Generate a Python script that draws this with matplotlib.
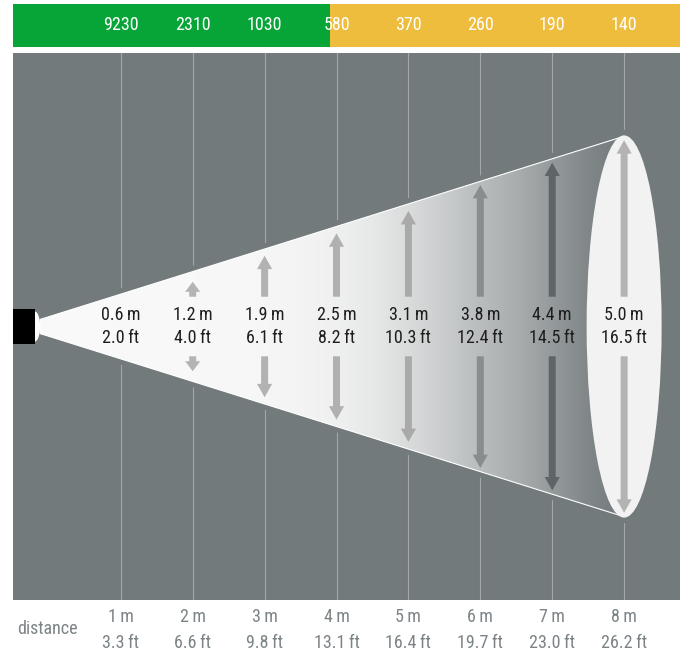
import numpy as np
import matplotlib
matplotlib.use('Agg')
import matplotlib.pyplot as plt
from matplotlib import font_manager, transforms
from matplotlib.patches import Polygon, Ellipse, Rectangle, FancyArrow

# datos
distancia_m = [1, 2, 3, 4, 5, 6, 7, 8]
distancia_ft = ['3.3', '6.6', '9.8', '13.1', '16.4', '19.7', '23.0', '26.2']
lux = [9230, 2310, 1030, 580, 370, 260, 190, 140]
diametro_m = [0.6, 1.2, 1.9, 2.5, 3.1, 3.8, 4.4, 5.0]
diametro_ft = ['2.0', '4.0', '6.1', '8.2', '10.3', '12.4', '14.5', '16.5']

# estilo
fondo = '#737a7c'
verde = '#07a537'
amarillo = '#eebd3e'
gris_rejilla = '#a2a7a9'
gris_texto = '#7c8386'
colores_flecha = ['#b4b4b4', '#b4b4b4', '#b2b2b2', '#b0b0b0', '#a9a9a9',
                  '#898d8e', '#5f6466', '#b3b3b3']

nombres = {f.name for f in font_manager.fontManager.ttflist}
fuente = 'Roboto'
for cand in ['Liberation Sans Narrow', 'Roboto Condensed', 'Roboto']:
    if cand in nombres:
        fuente = cand
        break
plt.rcParams['font.family'] = [fuente, 'DejaVu Sans']

fig = plt.figure(figsize=(6.8, 6.57), dpi=100)
fig.patch.set_facecolor('white')

xlim = (-0.4993, 8.777)
ylim = (-3.671, 3.671)

# panel principal
ax = fig.add_axes([13 / 680, 57 / 657, 667 / 680, 547 / 657])
ax.set_xlim(*xlim)
ax.set_ylim(*ylim)
ax.set_facecolor(fondo)
ax.axis('off')
ax.add_patch(Rectangle((xlim[0], ylim[0]), xlim[1] - xlim[0], ylim[1] - ylim[0],
                       facecolor=fondo, edgecolor='none', zorder=0))

# lineas verticales
for d in distancia_m:
    ax.plot([d, d], ylim, color=gris_rejilla, lw=0.8, zorder=1)

# cono de luz
x_ini = -0.124
x_fin = 8.0
def semiancho(x):
    return 0.132 + 0.3027 * x

cono = [(x_ini, semiancho(x_ini)), (x_fin, semiancho(x_fin)),
        (x_fin, -semiancho(x_fin)), (x_ini, -semiancho(x_ini))]
ax.add_patch(Polygon(cono, closed=True, facecolor=fondo, edgecolor=fondo,
                     lw=8, zorder=2))
ax.add_patch(Ellipse((8, 0), 1.043, 5.13, facecolor=fondo, edgecolor=fondo,
                     lw=8, zorder=2))

xs = np.linspace(x_ini, x_fin, 400)
paradas_x = [-0.2, 2.8, 3.5, 4.0, 4.5, 5.0, 5.5, 6.0, 6.5, 7.0, 7.5, 8.0]
paradas_t = [0.0, 0.02, 0.05, 0.08, 0.14, 0.24, 0.36, 0.48, 0.60, 0.75, 0.90, 1.0]
t = np.interp(xs, paradas_x, paradas_t)
blanco = np.array([0.98, 0.98, 0.98])
gris = np.array(matplotlib.colors.to_rgb(fondo))
img = (1 - t)[:, None] * blanco + t[:, None] * gris
img = img[None, :, :]
poly = Polygon(cono, closed=True, facecolor='none', edgecolor='none')
ax.add_patch(poly)
im = ax.imshow(img, extent=[x_ini, x_fin, -2.7, 2.7], aspect='auto',
               interpolation='bilinear', zorder=3)
im.set_clip_path(poly)
ax.add_patch(Polygon(cono, closed=True, facecolor='none', edgecolor='white',
                     lw=0.8, zorder=4))

# elipse final
ax.add_patch(Ellipse((8, 0), 1.043, 5.13, facecolor='#f2f2f2',
                     edgecolor='none', zorder=5))

# fuente de luz
ax.add_patch(Ellipse((-0.193, 0), 0.14, 0.40, facecolor='white',
                     edgecolor='none', zorder=6))
ax.add_patch(Rectangle((-0.499, -0.234), 0.306, 0.468, facecolor='black',
                       edgecolor='none', zorder=7))

# flechas y textos
hueco = 0.40
for d, dm, dft, c in zip(distancia_m, diametro_m, diametro_ft, colores_flecha):
    largo = dm / 2 - hueco
    if largo > 0:
        hl = min(0.18, 0.67 * largo)
        for signo in (1, -1):
            ax.add_patch(FancyArrow(d, signo * hueco, 0, signo * largo,
                                    width=0.097, head_width=0.21,
                                    head_length=hl, length_includes_head=True,
                                    color=c, lw=0, zorder=8))
    ax.text(d, 0.15, f'{dm:.1f}\u2009m', ha='center', va='center',
            fontsize=13, color='#1e1e1e', zorder=9)
    ax.text(d, -0.16, f'{dft}\u2009ft', ha='center', va='center',
            fontsize=13, color='#1e1e1e', zorder=9)

# barra superior de lux
axb = fig.add_axes([13 / 680, 610 / 657, 667 / 680, 43.5 / 657])
axb.set_xlim(*xlim)
axb.set_ylim(0, 1)
axb.axis('off')
limite = 3.91
axb.add_patch(Rectangle((xlim[0], 0), limite - xlim[0], 1, facecolor=verde,
                        edgecolor='none'))
axb.add_patch(Rectangle((limite, 0), xlim[1] - limite, 1, facecolor=amarillo,
                        edgecolor='none'))
for d, v in zip(distancia_m, lux):
    axb.text(d, 0.5, str(v), ha='center', va='center', fontsize=13,
             color='white')

# etiquetas de distancia
tr = transforms.blended_transform_factory(ax.transData, fig.transFigure)
for d, ft in zip(distancia_m, distancia_ft):
    fig.text(d, 0.0613, f'{d}\u2009m', transform=tr, ha='center', va='center',
             fontsize=13, color=gris_texto)
    fig.text(d, 0.0209, f'{ft}\u2009ft', transform=tr, ha='center',
             va='center', fontsize=13, color=gris_texto)
fig.text(-0.02, 0.042, 'distance', transform=tr, ha='center', va='center',
         fontsize=13, color=gris_texto)

plt.savefig('out.png', dpi=100)
